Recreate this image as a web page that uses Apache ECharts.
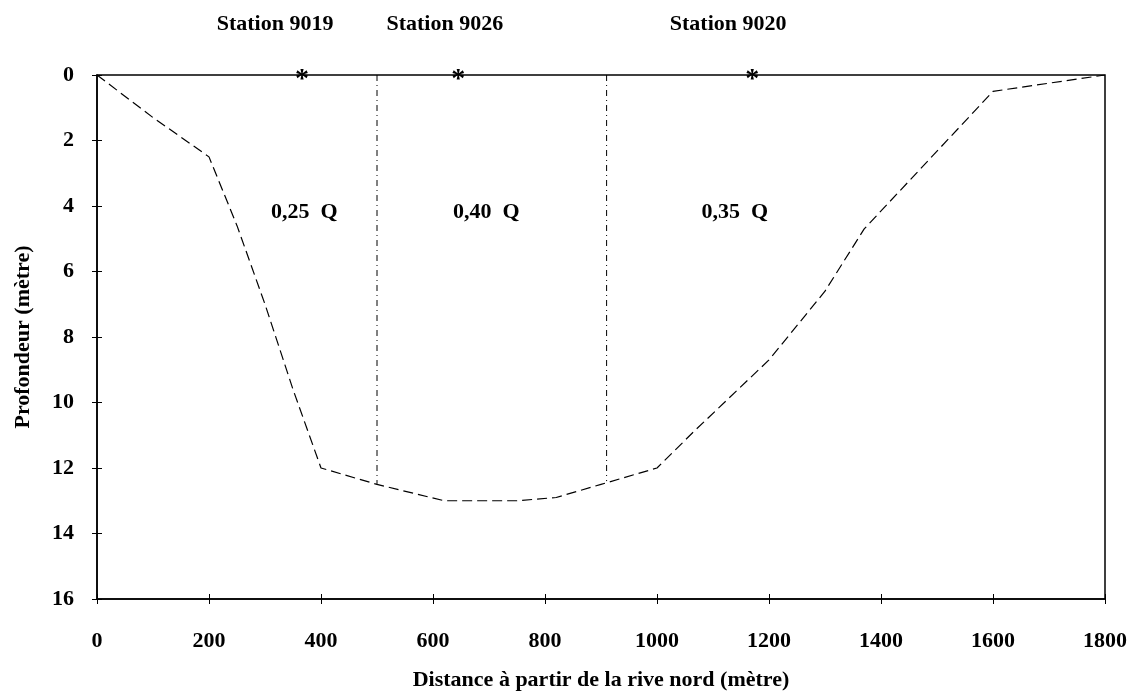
<!DOCTYPE html>
<html><head><meta charset="utf-8">
<script src="https://cdn.jsdelivr.net/npm/echarts@6/dist/echarts.min.js"></script>
<style>html,body{margin:0;padding:0;background:#fff}#c{width:1131px;height:696px}</style>
</head><body><div id="c"></div>
<script>
// Cross-section profile (distance m, depth m)
const profileX     = [0, 100, 200, 250, 300, 350, 400, 500, 620, 750, 820, 900, 1000, 1065, 1200, 1300, 1370, 1600, 1800];
const profileDepth = [0, 1.3, 2.5, 4.6, 7.0, 9.6, 12.0, 12.5, 13.0, 13.0, 12.9, 12.5, 12.0, 10.9, 8.7, 6.6, 4.7, 0.5, 0];
// Vertical section dividers
const dividerX     = [500, 910];
const dividerDepth = [12.5, 12.4];
// Stations (asterisks at surface) and their headings
const stationNames  = ['Station 9019', 'Station 9026', 'Station 9020'];
const stationX      = [366, 645, 1170];
const stationLabelX = [318, 621, 1127];
// Discharge fractions
const qLabels = ['0,25  Q', '0,40  Q', '0,35  Q'];
const qX      = [370, 695, 1139];
const qDepth  = [4.2, 4.2, 4.2];
// Axis ticks
const xTicks = [0, 200, 400, 600, 800, 1000, 1200, 1400, 1600, 1800];
const yTicks = [0, 2, 4, 6, 8, 10, 12, 14, 16];

const F = '"Liberation Serif", "DejaVu Serif", serif';
const series = [];
series.push({
  type: 'line', data: profileX.map((x, i) => [x, profileDepth[i]]),
  symbol: 'none', lineStyle: { color: '#000', width: 1.2, type: [10, 5] }, z: 3
});
dividerX.forEach((x, i) => series.push({
  type: 'line', data: [[x, 0], [x, dividerDepth[i]]], symbol: 'none',
  lineStyle: { color: '#000', width: 1, type: [6, 4, 1, 4] }
}));
const lbl = (extra) => Object.assign({ show: true, position: 'inside', fontFamily: F, fontWeight: 'bold', fontSize: 22, color: '#000' }, extra);
series.push({
  type: 'scatter', data: stationX.map(x => [x, 0]), symbolSize: 0, itemStyle: { opacity: 1 },
  label: lbl({ formatter: '*', fontSize: 28, offset: [0, 5] }), z: 5
});
series.push({
  type: 'scatter', data: stationLabelX.map((x, i) => ({ value: [x, 0], name: stationNames[i] })), symbolSize: 0, itemStyle: { opacity: 1 },
  label: lbl({ formatter: p => p.name, offset: [0, -51] })
});
series.push({
  type: 'scatter', data: qX.map((x, i) => ({ value: [x, qDepth[i]], name: qLabels[i] })), symbolSize: 0, itemStyle: { opacity: 1 },
  label: lbl({ formatter: p => p.name })
});

const xMin = xTicks[0], xMax = xTicks[xTicks.length - 1];
const yMin = yTicks[0], yMax = yTicks[yTicks.length - 1];
const chart = echarts.init(document.getElementById('c'));
chart.setOption({
  animation: false,
  backgroundColor: '#fff',
  grid: { left: 97, right: 26, top: 75, bottom: 96, show: true, borderColor: '#000', borderWidth: 1.5 },
  xAxis: [{
    type: 'value', min: xMin, max: xMax, interval: 200, position: 'bottom',
    axisLine: { show: true, onZero: false, lineStyle: { color: '#000', width: 1.5 } },
    axisTick: { show: true, length: 5, lineStyle: { color: '#000' } },
    splitLine: { show: false },
    axisLabel: { fontFamily: F, fontWeight: 'bold', fontSize: 22, color: '#000', margin: 31, formatter: v => String(v) },
    name: 'Distance à partir de la rive nord (mètre)', nameLocation: 'middle', nameGap: 70,
    nameTextStyle: { fontFamily: F, fontWeight: 'bold', fontSize: 22, color: '#000' }
  }, {
    type: 'value', min: xMin, max: xMax, interval: 200, position: 'bottom',
    axisLine: { show: false, onZero: false }, axisTick: { show: true, inside: true, length: 5, lineStyle: { color: '#000' } },
    axisLabel: { show: false }, splitLine: { show: false }
  }],
  yAxis: [{
    type: 'value', inverse: true, min: yMin, max: yMax, interval: 2, position: 'left',
    axisLine: { show: true, onZero: false, lineStyle: { color: '#000', width: 1.5 } },
    axisTick: { show: true, length: 5, inside: false, lineStyle: { color: '#000' } },
    splitLine: { show: false },
    axisLabel: { fontFamily: F, fontWeight: 'bold', fontSize: 22, color: '#000', margin: 23, formatter: v => String(v) },
    name: 'Profondeur (mètre)', nameLocation: 'middle', nameGap: 63, nameRotate: 90,
    nameTextStyle: { fontFamily: F, fontWeight: 'bold', fontSize: 22, color: '#000' }
  }, {
    type: 'value', inverse: true, min: yMin, max: yMax, interval: 2, position: 'left',
    axisLine: { show: false, onZero: false }, axisTick: { show: true, inside: true, length: 5, lineStyle: { color: '#000' } },
    axisLabel: { show: false }, splitLine: { show: false }
  }],
  series
});
</script></body></html>
